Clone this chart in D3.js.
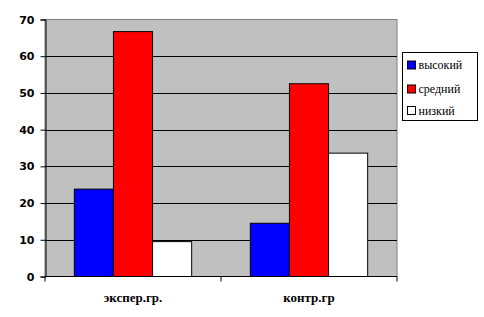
<!DOCTYPE html>
<html>
<head>
<meta charset="utf-8">
<script src="https://cdn.jsdelivr.net/npm/d3@7"></script>
<style>
  body { margin: 0; background: #fff; }
  .serif { font-family: "Liberation Serif", "DejaVu Serif", "Times New Roman", serif; }
  .ylab { font-family: "DejaVu Sans", Verdana, sans-serif; font-size: 11px; font-weight: bold; }
</style>
</head>
<body>
<div id="chart"></div>
<script>
var width = 484,
    height = 317;

var categories = ["экспер.гр.", "контр.гр"];
var seriesNames = ["высокий", "средний", "низкий"];
var seriesColors = ["#0000ff", "#ff0000", "#ffffff"];
var vysokiy = [23.8, 14.5];
var sredniy = [66.7, 52.5];
var nizkiy = [9.5, 33.6];
var yTicks = [0, 10, 20, 30, 40, 50, 60, 70];

var values = [vysokiy, sredniy, nizkiy];

var plot = {left: 45, right: 397, top: 19.5, bottom: 276.5};

var svg = d3.select("#chart").append("svg")
    .attr("width", width)
    .attr("height", height);

var x0 = d3.scaleBand()
  .domain(categories)
  .range([plot.left, plot.right]);

// excel style: gap width ~150% of bar width
var x1 = d3.scaleBand()
  .domain(seriesNames)
  .range([0, x0.bandwidth()])
  .paddingInner(0)
  .paddingOuter(0.75);

var y = d3.scaleLinear()
  .domain([0, 70])
  .range([plot.bottom, plot.top]);

// plot background
svg.append("rect")
  .attr("x", plot.left)
  .attr("y", plot.top)
  .attr("width", plot.right - plot.left)
  .attr("height", plot.bottom - plot.top)
  .style("fill", "#c0c0c0")
  .style("stroke", "#808080")
  .style("stroke-width", 1);

// gridlines
svg.selectAll("line.grid")
  .data(yTicks.filter(function(d){ return d > 0 && d < 70; }))
  .enter()
  .append("line")
  .attr("class", "grid")
  .attr("x1", plot.left)
  .attr("x2", plot.right)
  .attr("y1", function(d){ return Math.round(y(d)) + 0.5; })
  .attr("y2", function(d){ return Math.round(y(d)) + 0.5; })
  .style("stroke", "#000")
  .style("stroke-width", 1);

// bars
categories.forEach(function(cat, ci){
  svg.append("g")
    .selectAll("rect")
    .data(seriesNames)
    .enter()
    .append("rect")
    .attr("x", function(s){ return x0(cat) + x1(s); })
    .attr("y", function(s, si){ return y(values[si][ci]); })
    .attr("width", x1.bandwidth())
    .attr("height", function(s, si){ return plot.bottom - y(values[si][ci]); })
    .style("fill", function(s, si){ return seriesColors[si]; })
    .style("stroke", "#000")
    .style("stroke-width", 1);
});

// y axis
var yAxis = d3.axisLeft(y)
  .tickValues(yTicks)
  .tickSize(5)
  .tickPadding(6);

var ya = svg.append("g")
  .attr("transform", "translate(" + (plot.left + 0.5) + ",0)")
  .call(yAxis)
  .attr("font-family", null)
  .attr("font-size", null);
ya.select(".domain").attr("stroke", "#000");
ya.selectAll("text")
  .attr("class", "ylab")
  .attr("fill", "#000");

// x axis
var xa = svg.append("g")
  .attr("transform", "translate(0," + (plot.bottom) + ")");
xa.append("line")
  .attr("x1", plot.left)
  .attr("x2", plot.right)
  .style("stroke", "#000")
  .style("stroke-width", 1.2);
xa.selectAll("line.tick")
  .data([plot.left, x0(categories[1]), plot.right])
  .enter()
  .append("line")
  .attr("x1", function(d){ return d; })
  .attr("x2", function(d){ return d; })
  .attr("y1", 0)
  .attr("y2", 5)
  .style("stroke", "#000");
xa.selectAll("text")
  .data(categories)
  .enter()
  .append("text")
  .attr("class", "serif")
  .attr("x", function(d){ return x0(d) + x0.bandwidth() / 2; })
  .attr("y", 25)
  .attr("text-anchor", "middle")
  .attr("font-size", 13)
  .attr("font-weight", "bold")
  .text(function(d){ return d; });

// legend
var legend = svg.append("g")
  .attr("transform", "translate(402.5,52.5)");
legend.append("rect")
  .attr("width", 75)
  .attr("height", 68)
  .style("fill", "#fff")
  .style("stroke", "#000");
var items = legend.selectAll("g.item")
  .data(seriesNames)
  .enter()
  .append("g")
  .attr("transform", function(d, i){ return "translate(5," + [12.5, 36.5, 58][i] + ")"; });
items.append("rect")
  .attr("x", 0)
  .attr("y", -4)
  .attr("width", 8)
  .attr("height", 8)
  .style("fill", function(d, i){ return seriesColors[i]; })
  .style("stroke", "#000");
items.append("text")
  .attr("class", "serif")
  .attr("x", 11)
  .attr("y", 4)
  .attr("font-size", 12)
  .text(function(d){ return d; });
</script>
</body>
</html>
